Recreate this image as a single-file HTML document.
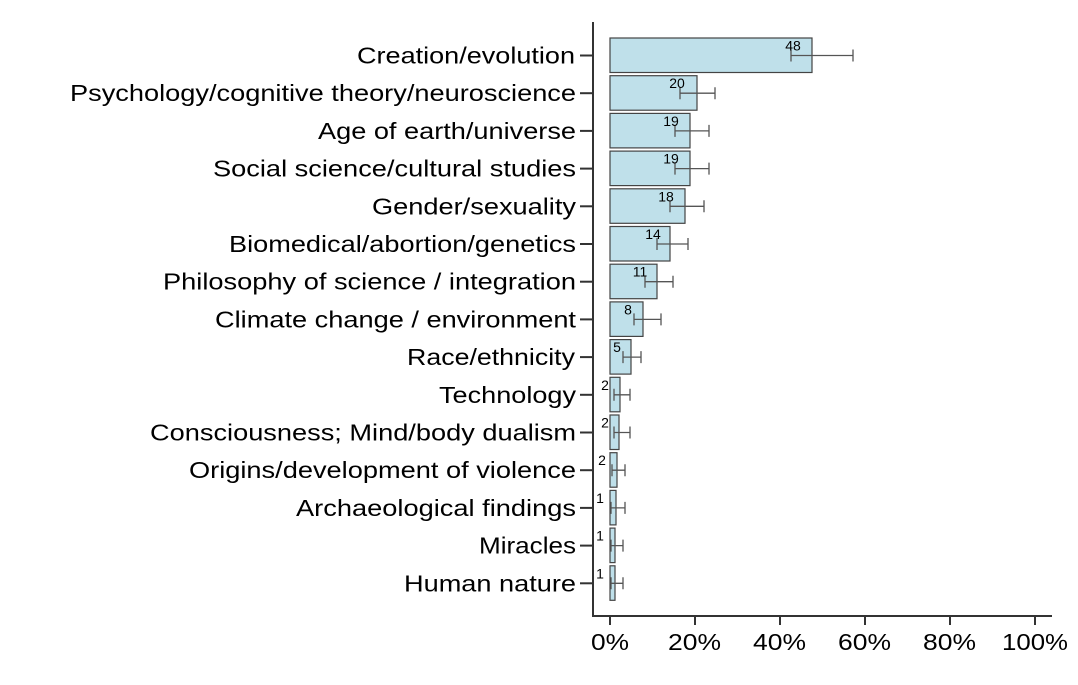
<!DOCTYPE html>
<html><head><meta charset="utf-8"><style>body{margin:0;background:#fff}svg{display:block}</style></head><body>
<svg width="1078" height="685" xmlns="http://www.w3.org/2000/svg" font-family="Liberation Sans, Arial, sans-serif">
<g stroke="#333" stroke-width="2" fill="none">
<line x1="593" y1="22" x2="593" y2="617"/>
<line x1="592" y1="616" x2="1052" y2="616"/>
<line x1="610" y1="616" x2="610" y2="625"/><line x1="695" y1="616" x2="695" y2="625"/><line x1="780" y1="616" x2="780" y2="625"/><line x1="865" y1="616" x2="865" y2="625"/><line x1="950" y1="616" x2="950" y2="625"/><line x1="1035" y1="616" x2="1035" y2="625"/>
</g>
<g font-size="23" fill="#000">
<text x="591" y="650" textLength="38" lengthAdjust="spacingAndGlyphs">0%</text>
<text x="668" y="650" textLength="53" lengthAdjust="spacingAndGlyphs">20%</text>
<text x="753" y="650" textLength="53" lengthAdjust="spacingAndGlyphs">40%</text>
<text x="838" y="650" textLength="53" lengthAdjust="spacingAndGlyphs">60%</text>
<text x="923" y="650" textLength="53" lengthAdjust="spacingAndGlyphs">80%</text>
<text x="1002" y="650" textLength="66" lengthAdjust="spacingAndGlyphs">100%</text>
</g>
<g font-size="23" fill="#000">
<text x="357" y="63.5" textLength="218" lengthAdjust="spacingAndGlyphs">Creation/evolution</text>
<text x="70" y="101.2" textLength="506" lengthAdjust="spacingAndGlyphs">Psychology/cognitive theory/neuroscience</text>
<text x="318" y="138.9" textLength="258" lengthAdjust="spacingAndGlyphs">Age of earth/universe</text>
<text x="213" y="176.6" textLength="363" lengthAdjust="spacingAndGlyphs">Social science/cultural studies</text>
<text x="372" y="214.3" textLength="204" lengthAdjust="spacingAndGlyphs">Gender/sexuality</text>
<text x="229" y="252" textLength="347" lengthAdjust="spacingAndGlyphs">Biomedical/abortion/genetics</text>
<text x="163" y="289.7" textLength="413" lengthAdjust="spacingAndGlyphs">Philosophy of science / integration</text>
<text x="215" y="327.4" textLength="361" lengthAdjust="spacingAndGlyphs">Climate change / environment</text>
<text x="407" y="365.1" textLength="168" lengthAdjust="spacingAndGlyphs">Race/ethnicity</text>
<text x="439" y="402.8" textLength="137" lengthAdjust="spacingAndGlyphs">Technology</text>
<text x="150" y="440.5" textLength="426" lengthAdjust="spacingAndGlyphs">Consciousness; Mind/body dualism</text>
<text x="189" y="478.2" textLength="387" lengthAdjust="spacingAndGlyphs">Origins/development of violence</text>
<text x="296" y="515.9" textLength="280" lengthAdjust="spacingAndGlyphs">Archaeological findings</text>
<text x="479" y="553.6" textLength="97" lengthAdjust="spacingAndGlyphs">Miracles</text>
<text x="404" y="591.3" textLength="172" lengthAdjust="spacingAndGlyphs">Human nature</text>
</g>
<g stroke="#333" stroke-width="2">
<line x1="580" y1="55.5" x2="593" y2="55.5"/><line x1="580" y1="93.2" x2="593" y2="93.2"/><line x1="580" y1="130.9" x2="593" y2="130.9"/><line x1="580" y1="168.6" x2="593" y2="168.6"/><line x1="580" y1="206.3" x2="593" y2="206.3"/><line x1="580" y1="244" x2="593" y2="244"/><line x1="580" y1="281.7" x2="593" y2="281.7"/><line x1="580" y1="319.4" x2="593" y2="319.4"/><line x1="580" y1="357.1" x2="593" y2="357.1"/><line x1="580" y1="394.8" x2="593" y2="394.8"/><line x1="580" y1="432.5" x2="593" y2="432.5"/><line x1="580" y1="470.2" x2="593" y2="470.2"/><line x1="580" y1="507.9" x2="593" y2="507.9"/><line x1="580" y1="545.6" x2="593" y2="545.6"/><line x1="580" y1="583.3" x2="593" y2="583.3"/>
</g>
<g fill="#bfe0ea" stroke="#444" stroke-width="1.2">
<rect x="610" y="38" width="202" height="34.5"/>
<rect x="610" y="75.7" width="87" height="34.5"/>
<rect x="610" y="113.4" width="80" height="34.5"/>
<rect x="610" y="151.1" width="80" height="34.5"/>
<rect x="610" y="188.8" width="75" height="34.5"/>
<rect x="610" y="226.5" width="60" height="34.5"/>
<rect x="610" y="264.2" width="47" height="34.5"/>
<rect x="610" y="301.9" width="33" height="34.5"/>
<rect x="610" y="339.6" width="21" height="34.5"/>
<rect x="610" y="377.3" width="10" height="34.5"/>
<rect x="610" y="415" width="9" height="34.5"/>
<rect x="610" y="452.7" width="7" height="34.5"/>
<rect x="610" y="490.4" width="6" height="34.5"/>
<rect x="610" y="528.1" width="5" height="34.5"/>
<rect x="610" y="565.8" width="5" height="34.5"/>
</g>
<g stroke="#555" stroke-width="1.3" fill="none">
<path d="M791 55.5H853M791 49.5v12M853 49.5v12"/>
<path d="M680 93.2H715M680 87.2v12M715 87.2v12"/>
<path d="M675 130.9H709M675 124.9v12M709 124.9v12"/>
<path d="M675 168.6H709M675 162.6v12M709 162.6v12"/>
<path d="M670 206.3H704M670 200.3v12M704 200.3v12"/>
<path d="M657 244H688M657 238v12M688 238v12"/>
<path d="M645 281.7H673M645 275.7v12M673 275.7v12"/>
<path d="M634 319.4H661M634 313.4v12M661 313.4v12"/>
<path d="M623 357.1H641M623 351.1v12M641 351.1v12"/>
<path d="M614 394.8H630M614 388.8v12M630 388.8v12"/>
<path d="M614 432.5H630M614 426.5v12M630 426.5v12"/>
<path d="M612 470.2H625M612 464.2v12M625 464.2v12"/>
<path d="M611 507.9H625M611 501.9v12M625 501.9v12"/>
<path d="M611 545.6H623M611 539.6v12M623 539.6v12"/>
<path d="M611 583.3H623M611 577.3v12M623 577.3v12"/>
</g>
<g font-size="14" fill="#000" text-anchor="middle">
<text x="793" y="50.5">48</text>
<text x="677" y="88.2">20</text>
<text x="671" y="125.9">19</text>
<text x="671" y="163.6">19</text>
<text x="666" y="201.3">18</text>
<text x="653" y="239">14</text>
<text x="640" y="276.7">11</text>
<text x="628" y="314.4">8</text>
<text x="617" y="352.1">5</text>
<text x="605" y="389.8">2</text>
<text x="605" y="427.5">2</text>
<text x="602" y="465.2">2</text>
<text x="600" y="502.9">1</text>
<text x="600" y="540.6">1</text>
<text x="600" y="578.3">1</text>
</g>
</svg>
</body></html>
